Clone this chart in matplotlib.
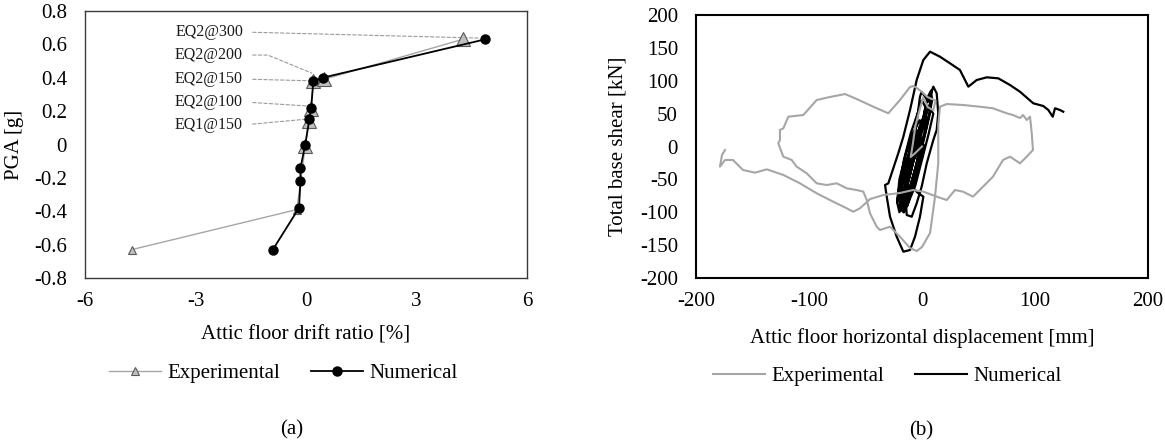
import matplotlib
matplotlib.use('Agg')
import matplotlib.pyplot as plt
from matplotlib.lines import Line2D
from matplotlib.ticker import FuncFormatter

plt.rcParams['font.family'] = ['Liberation Serif', 'DejaVu Serif']
plt.rcParams['axes.unicode_minus'] = False

# ---------------- data (a) ----------------
exp_drift = [-4.73, -0.25, -0.02, 0.07, 0.13, 0.20, 0.48, 4.25]
exp_pga = [-0.63, -0.39, -0.01, 0.14, 0.21, 0.38, 0.39, 0.63]
num_drift = [-0.90, -0.19, -0.15, -0.15, -0.02, 0.09, 0.14, 0.20, 0.45, 4.86]
num_pga = [-0.63, -0.38, -0.22, -0.14, 0.00, 0.15, 0.22, 0.38, 0.40, 0.63]
ann_labels = ['EQ2@300', 'EQ2@200', 'EQ2@150', 'EQ2@100', 'EQ1@150']
ann_targets_x = [4.67, 0.155, 0.11, 0.03, -0.03]
ann_targets_y = [0.638, 0.428, 0.382, 0.231, 0.151]
ann_text_y = [0.674, 0.536, 0.392, 0.255, 0.117]
a_xticks = [-6, -3, 0, 3, 6]
a_yticks = [-0.8, -0.6, -0.4, -0.2, 0, 0.2, 0.4, 0.6, 0.8]

# ---------------- data (b) ----------------
exp_disp = [0, -6, -10, -8, -6, -3, 1, 5, 10, 12, 5, 0, -4.7, -7.6, -10.6, -19.5,
            -29.8, -43.1, -57.8, -68.1, -81.4, -93.2, -105, -118.3, -122.7, -125.7,
            -125.7, -127.2, -122.7, -115.3, -110.9, -102, -93.2, -84.3, -75.5, -66.6,
            -57.8, -51.9, -48.9, -46, -40.1, -37.2, -28.3, -19.5, -10.6, -4.7, 0, 7.1,
            11.5, 14.4, 14.4, 15.9, 21.9, 36.5, 51.3, 62.8, 75, 80.5, 86.7, 89.4, 92.7,
            95.6, 97.1, 98.2, 92.7, 86.7, 77.9, 71.7, 62.8, 54, 45.1, 36.3, 29.2, 21.9,
            13, 1.2, -8, -19.5, -34.2, -46, -54.9, -60.8, -66.6, -78.5, -93.2, -108,
            -122.7, -137.4, -147.8, -158.4, -167.3, -174.3, -178.8, -177, -174.3]
exp_shear = [0, -10, -16, 5, 30, 50, 75, 60, 55, 70, 75, 83, 89, 92, 90.5, 70.7,
             50.5, 60.5, 72.2, 79.8, 75.3, 70.7, 47.9, 45.3, 27.7, 25.1,
             9.9, 4.9, -15.5, -20.5, -30.7, -40.8, -56, -58.6, -56, -63.6,
             -66.2, -68.7, -81.4, -101.6, -122, -127, -122, -137.2, -154.4, -159, -152.9, -131.6,
             -76.8, -25.1, 32.7, 60.5, 64.6, 63.1, 60.5, 58.1, 50.5, 47.9, 43.3, 47.9, 40.3,
             45.3, 20.5, -5.3, -15.5, -25.6, -15.5, -20.5, -45.9, -61.1, -76.3, -68.7, -66.2, -81.4,
             -76.3, -68.7, -66.2, -70.7, -73.8, -80, -94, -99.2, -94, -84, -71.2, -56,
             -43.3, -34.7, -39.8, -35.7, -20.5, -20.5, -30.7, -12.9, -5.3]

num_disp = [0, -8, -13, -17, -19, -13, -8, -2, 2, -3, -8, -13, -17,
            -18, -14, -8, -2, 4, 2, -4, -10, -16, -18,
            -15, -12, -6, 0, 6, 10, 6, 0, -6, -12, -15,
            -20, -16, -10, -4, 0, 3, 0, -6, -12, -18, -20,
            -22, -20, -14, -8, -2, 0, -5, -10, -16, -20, -22,
            -19, -15, -10, -6, -3, -8, -13, -18, -19,
            -16, -14, -9, -4, 1, 5, 8, 7, 3, -2, -7, -12, -16,
            -20, -18, -12, -6, -2, -5, -10, -15, -20,
            -12, -6, 0, 5, 8, 9, 4, -2, -8, -14, -12,
            -15, -15, -12.1, -7.7, -4.7, -3.3, -1.8, -0.3, 5.6, 10, 13, 14.4, 13, 10,
            4.2, -0.3, -4.7, -9.1, -13.5, -15, -10, -4, 1.2, -1.8, -6.2, -10.6, -16.5,
            -22.4, -28.3, -31.2, -32.7, -29.8, -23.9, -21, -16.5, -10.6, -4.7, 1.2, 7.1,
            15.9, 24.8, 33.6, 41, 48.4, 57.3, 67.5, 77.9, 86.7, 98.5, 107.3, 111.8,
            115.7, 117.7, 122.1, 125]
num_shear = [0, -60, -90, -80, -50, -20, 0, 15, 0, -30, -60, -90, -80,
             -90, -40, 0, 30, 45, 20, -20, -60, -95, -90,
             -70, -30, 10, 40, 60, 50, 20, -20, -60, -85, -70,
             -60, -20, 20, 50, 70, 60, 30, -10, -50, -75, -60,
             -85, -50, -10, 20, 40, 30, 0, -40, -75, -100, -85,
             -70, -30, 0, 25, 10, -25, -60, -85, -70,
             -100, -60, -30, -5, 30, 55, 70, 50, 20, -15, -50, -85, -100,
             -95, -60, -35, -15, 5, -30, -60, -90, -95,
             -40, 0, 35, 75, 85, 70, 30, -10, -45, -80, -40,
             -66.2, -35.7, -15.5, 9.9, 35.3, 55.5, 75.7, 83.3, 68.1, 91, 80.9, 50.5, 25.1, 9.9,
             -25.6, -61.1, -86.4, -106.8, -104.2, -66.2, -60, -70, -76.3, -106.8, -137.2, -157.4, -160,
             -137.2, -106.8, -76.3, -58.6, -56, -25.6, -10.3, 14.9, 55.5, 101.1, 131.6, 144.2,
             136.6, 126.5, 116.3, 91, 101.1, 105.2, 103.7, 93.5, 83.3, 65.7, 61.6, 55.5,
             45.3, 58.1, 55.5, 52.9]
b_xticks = [-200, -100, 0, 100, 200]
b_yticks = [-200, -150, -100, -50, 0, 50, 100, 150, 200]

# ---------------- figure ----------------
W, H = 1165, 443
fig = plt.figure(figsize=(W / 100, H / 100), dpi=100)
GRAY = '#A6A6A6'
FS = 15

# ---- panel (a)
axL = fig.add_axes([85 / W, 1 - 278 / H, 442 / W, 267 / H])
axL.plot(exp_drift, exp_pga, color=GRAY, lw=1.0, zorder=2)
big = [(x, y) for x, y in zip(exp_drift, exp_pga) if y > -0.3]
small = [(x, y) for x, y in zip(exp_drift, exp_pga) if y <= -0.3]
axL.plot([p[0] for p in big], [p[1] for p in big], ls='none', marker='^', ms=10,
         mfc='#BFBFBF', mec='#595959', mew=0.8, zorder=3)
axL.plot([p[0] for p in small], [p[1] for p in small], ls='none', marker='^', ms=6,
         mfc='#BFBFBF', mec='#595959', mew=0.8, zorder=3)
axL.plot(num_drift, num_pga, color='black', lw=1.3, marker='o', ms=6.5, zorder=4)

for i, lab in enumerate(ann_labels):
    if i == 1:
        cs = 'angle,angleA=0,angleB=157.7,rad=0'
    else:
        cs = 'arc3,rad=0'
    axL.annotate(lab, xy=(ann_targets_x[i], ann_targets_y[i]), xytext=(-1.71, ann_text_y[i]),
                 textcoords='data', ha='right', va='center', fontsize=11.5, color='#1a1a1a',
                 arrowprops=dict(arrowstyle='-', color='#9A9A9A', lw=0.8,
                                 linestyle=(0, (3, 2)), shrinkA=5, shrinkB=0,
                                 connectionstyle=cs, relpos=(1.0, 0.5)),
                 zorder=1)

axL.set_xlim(-6, 6)
axL.set_ylim(-0.8, 0.8)
axL.set_xticks(a_xticks)
axL.set_yticks(a_yticks)
axL.yaxis.set_major_formatter(FuncFormatter(lambda v, p: f'{v:g}'))
axL.tick_params(length=0, labelsize=FS)
axL.tick_params(axis='y', pad=13)
axL.tick_params(axis='x', pad=10)
for s in axL.spines.values():
    s.set_color('#3a3a3a')
    s.set_linewidth(1.0)

fig.text(306 / W, 1 - 335 / H, 'Attic floor drift ratio [%]', ha='center', va='center', fontsize=FS)
fig.text(15 / W, 1 - 145 / H, 'PGA [g]', ha='center', va='center', rotation=90, fontsize=FS)

hL = [Line2D([], [], color=GRAY, lw=1.0, marker='^', ms=6, mfc='#BFBFBF', mec='#595959', mew=0.8),
      Line2D([], [], color='black', lw=1.3, marker='o', ms=6.5)]
fig.legend(hL, ['Experimental', 'Numerical'], loc='center', bbox_to_anchor=(283 / W, 1 - 373 / H),
           ncol=2, frameon=False, fontsize=FS, handlelength=2.5, handletextpad=0.3,
           columnspacing=1.5, borderpad=0, borderaxespad=0)
fig.text(292 / W, 1 - 430 / H, '(a)', ha='center', va='center', fontsize=FS)

# ---- panel (b)
axR = fig.add_axes([696 / W, 1 - 278 / H, 452 / W, 263 / H])
axR.plot(num_disp, num_shear, color='black', lw=1.6, zorder=2)
axR.plot(exp_disp, exp_shear, color=GRAY, lw=1.5, zorder=3)
axR.set_xlim(-200, 200)
axR.set_ylim(-200, 200)
axR.set_xticks(b_xticks)
axR.set_yticks(b_yticks)
axR.tick_params(length=0, labelsize=FS)
axR.tick_params(axis='y', pad=13)
axR.tick_params(axis='x', pad=10)
for s in axR.spines.values():
    s.set_color('black')
    s.set_linewidth(1.5)

fig.text(922 / W, 1 - 338 / H, 'Attic floor horizontal displacement [mm]', ha='center', va='center', fontsize=FS)
fig.text(618 / W, 1 - 146 / H, 'Total base shear [kN]', ha='center', va='center', rotation=90, fontsize=FS)

hR = [Line2D([], [], color=GRAY, lw=1.5), Line2D([], [], color='black', lw=1.5)]
fig.legend(hR, ['Experimental', 'Numerical'], loc='center', bbox_to_anchor=(887 / W, 1 - 376 / H),
           ncol=2, frameon=False, fontsize=FS, handlelength=2.5, handletextpad=0.3,
           columnspacing=1.5, borderpad=0, borderaxespad=0)
fig.text(921 / W, 1 - 431 / H, '(b)', ha='center', va='center', fontsize=FS)

fig.savefig('out.png', dpi=100)
